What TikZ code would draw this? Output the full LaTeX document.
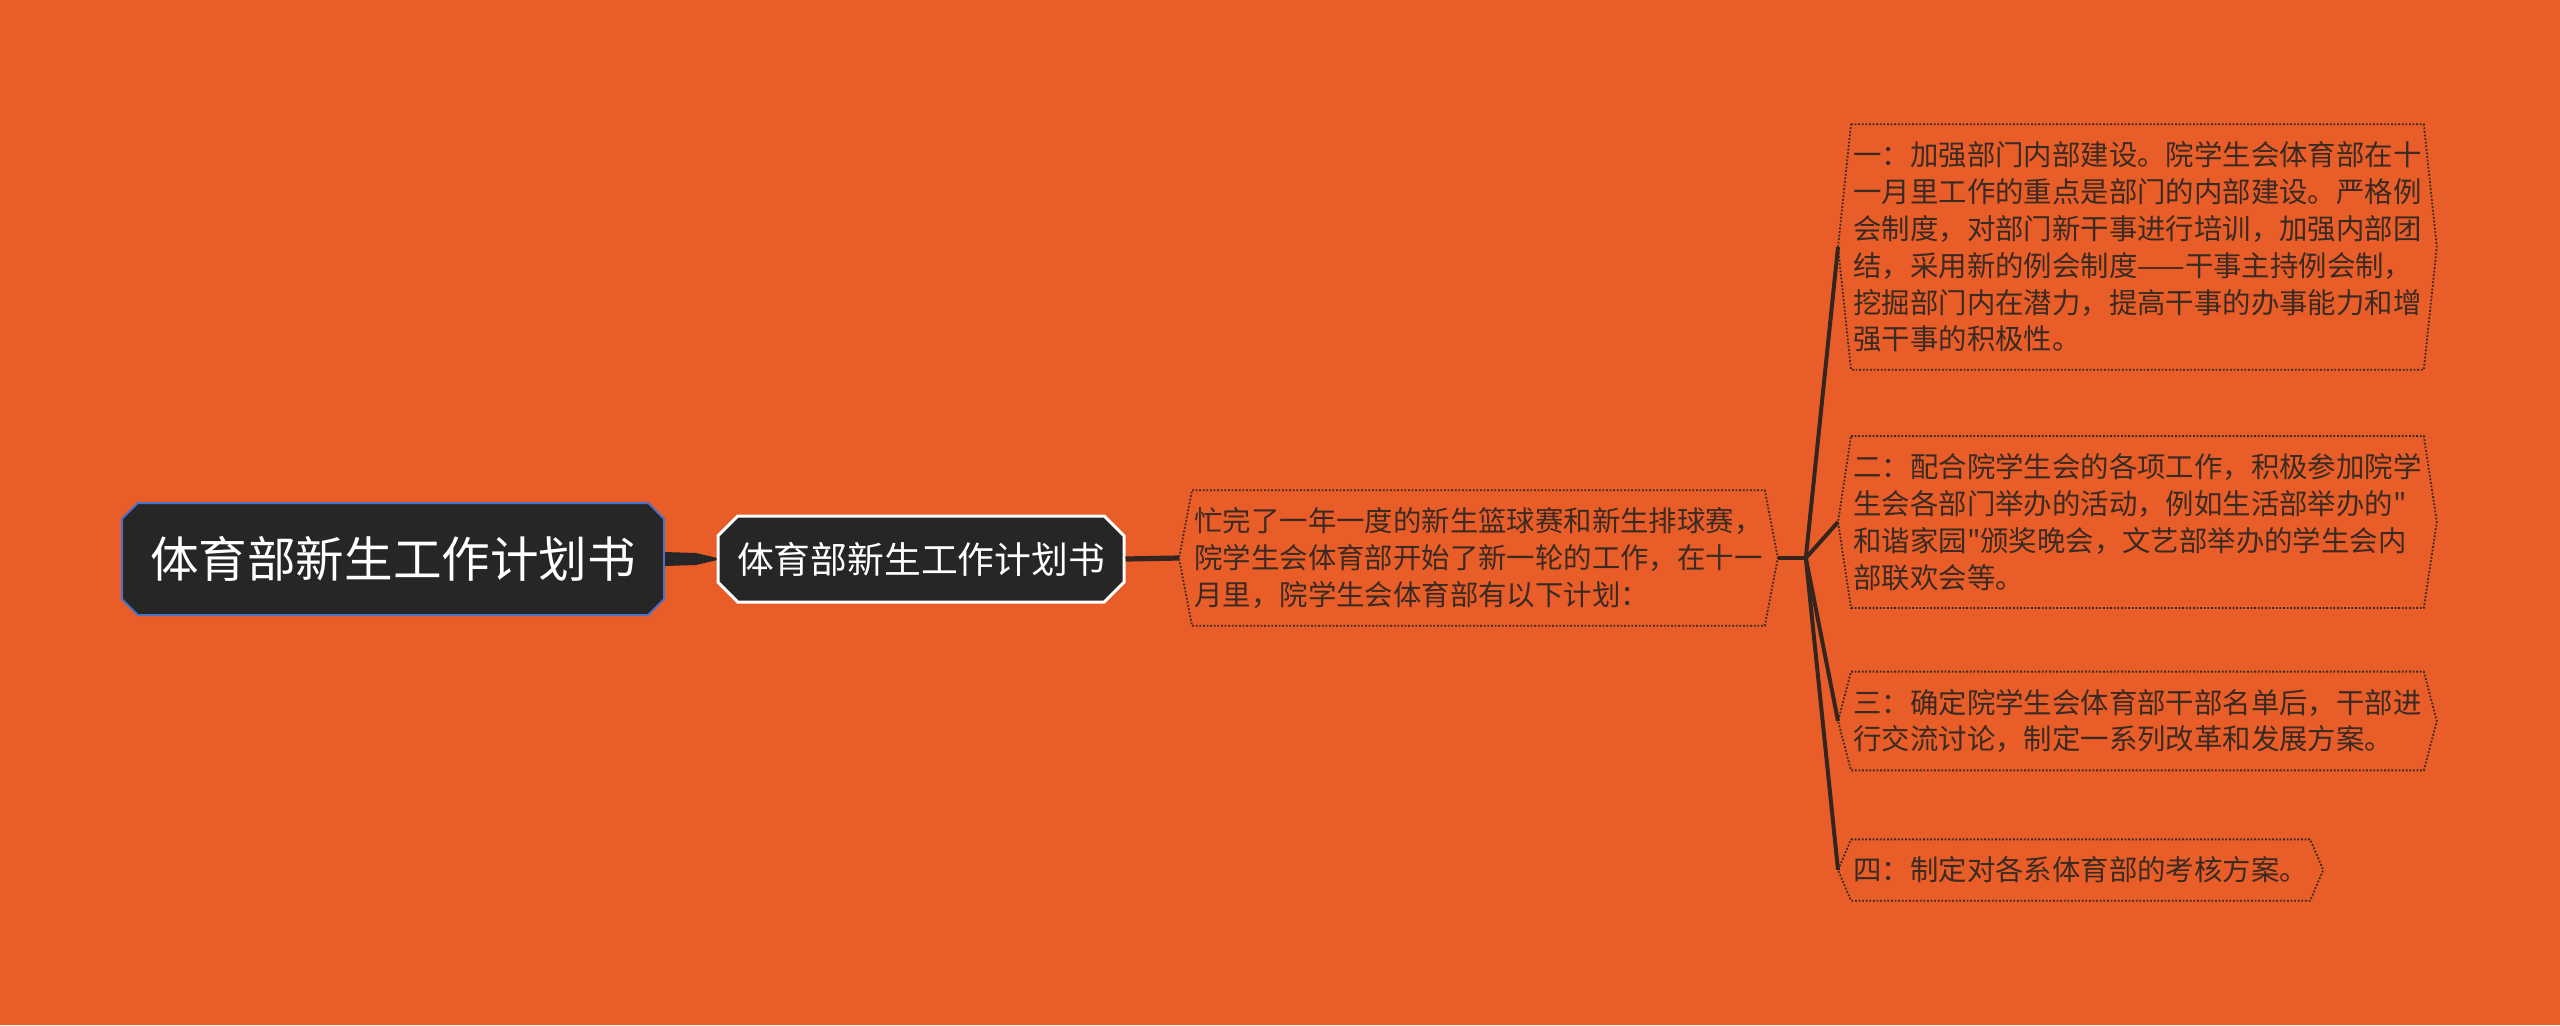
\documentclass[tikz,border=0pt]{standalone}
\usepackage{fontspec}
\usepackage{tikz}
\usetikzlibrary{shapes.misc,calc}
\newfontfamily\cjk{Noto Sans CJK SC}

\definecolor{bgorange}{HTML}{E95E28}
\definecolor{boxdark}{HTML}{262626}
\definecolor{rootblue}{HTML}{4D70C8}
\definecolor{inkbrown}{HTML}{3A2A22}

\newcommand{\hexframe}[1]{\draw[leafline] (#1.north west) -- (#1.north east) -- ([xshift=6.5pt]#1.east) -- (#1.south east) -- (#1.south west) -- ([xshift=-6.5pt]#1.west) -- cycle;}

\begin{document}
\begin{tikzpicture}[x=0.5pt,y=-0.5pt,
    rootbox/.style={chamfered rectangle,chamfered rectangle xsep=5pt,fill=boxdark,draw=rootblue,line width=1pt,
      text=white,font=\cjk\fontsize{24.3pt}{28pt}\selectfont,minimum width=271pt,minimum height=56pt,inner sep=0pt},
    subbox/.style={chamfered rectangle,chamfered rectangle xsep=7pt,fill=boxdark,draw=white,line width=1.5pt,
      text=white,font=\cjk\fontsize{18.4pt}{22pt}\selectfont,minimum width=203pt,minimum height=43pt,inner sep=0pt},
    leafbox/.style={anchor=west,align=left,text=inkbrown,font=\cjk\fontsize{14.2pt}{18.4pt}\selectfont,
      inner xsep=1pt,inner ysep=8.5pt},
    leafline/.style={inkbrown,line width=0.9pt,dash pattern=on 0.9pt off 0.9pt},
    linkline/.style={draw=inkbrown!90!black,line width=2pt}]
  \fill[bgorange] (0,0) rectangle (2560,1025);
  \useasboundingbox (0,0) rectangle (2560,1025);

  \node[rootbox] (root) at (393,559) {体育部新生工作计划书};
  \node[subbox] (sub) at (921,559) {体育部新生工作计划书};

  \node[leafbox] (intro) at (1192,558) {忙完了一年一度的新生篮球赛和新生排球赛，\\院学生会体育部开始了新一轮的工作，在十一\\月里，院学生会体育部有以下计划：};

  \node[leafbox] (one) at (1851,247) {一：加强部门内部建设。院学生会体育部在十\\一月里工作的重点是部门的内部建设。严格例\\会制度，对部门新干事进行培训，加强内部团\\结，采用新的例会制度——干事主持例会制，\\挖掘部门内在潜力，提高干事的办事能力和增\\强干事的积极性。};
  \node[leafbox] (two) at (1851,522) {二：配合院学生会的各项工作，积极参加院学\\生会各部门举办的活动，例如生活部举办的"\\和谐家园"颁奖晚会，文艺部举办的学生会内\\部联欢会等。};
  \node[leafbox] (three) at (1851,721) {三：确定院学生会体育部干部名单后，干部进\\行交流讨论，制定一系列改革和发展方案。};
  \node[leafbox] (four) at (1851,870) {四：制定对各系体育部的考核方案。};

  \foreach \n in {intro,one,two,three,four} {\hexframe{\n}}

  \fill[boxdark] ([yshift=3.5pt]root.east) -- ([yshift=3pt]$(root.east)!.6!(sub.west)$) -- ([yshift=.6pt]sub.west)
    -- ([yshift=-.6pt]sub.west) -- ([yshift=-3pt]$(root.east)!.6!(sub.west)$) -- ([yshift=-3.5pt]root.east) -- cycle;
  \draw[linkline,line width=2.6pt] (sub.east) -- ([xshift=-6.5pt]intro.west);

  \coordinate (fork) at ($([xshift=6.5pt]intro.east)+(28,0)$);
  \draw[linkline] ([xshift=6.5pt]intro.east) -- (fork);
  \foreach \n in {one,two,three,four}
    \draw[linkline] (fork) -- ([xshift=-6.5pt]\n.west);
\end{tikzpicture}
\end{document}
